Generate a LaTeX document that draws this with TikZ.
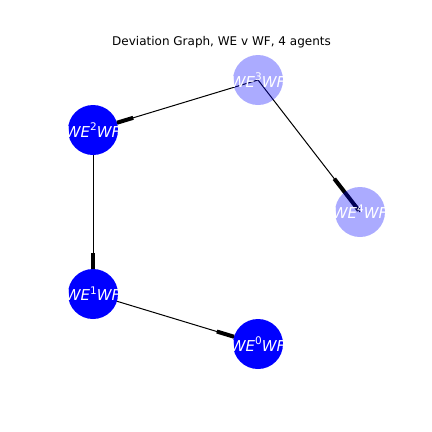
\documentclass[tikz,border=0pt]{standalone}
\usepackage{fontspec}
\setmainfont{DejaVu Sans}
\usetikzlibrary{calc}
\newcommand{\lbl}[1]{\fontsize{15bp}{18bp}\selectfont\itshape WE\raisebox{0.42em}{\fontsize{10.5bp}{12bp}\selectfont\upshape #1}WF}
\tikzset{
  edge/.style={draw=black, line width=1bp},
  stub/.style={draw=black, line width=4bp},
  solidnode/.style={circle, fill=blue, minimum size=50bp, inner sep=0pt},
  lightnode/.style={circle, fill=blue, fill opacity=0.33, minimum size=50bp, inner sep=0pt},
  nlabel/.style={text=white, inner sep=0pt},
}
\begin{document}
\begin{tikzpicture}[x=1bp,y=-1bp]
\useasboundingbox (0,0) rectangle (432,432);
\coordinate (c3) at (258,80);
\coordinate (c2) at (93,130);
\coordinate (c1) at (93,294);
\coordinate (c0) at (258,344);
\coordinate (c4) at (360,212);
% edges
\draw[edge] (c3) -- (c2);
\draw[edge] (c3) -- (c4);
\draw[edge] (c2) -- (c1);
\draw[edge] (c1) -- (c0);
% arrow stubs
\draw[stub] ($(c2)!25bp!(c3)$) -- ($(c2)!42bp!(c3)$);
\draw[stub] ($(c4)!2bp!(c3)$) -- ($(c4)!42bp!(c3)$);
\draw[stub] ($(c1)!25bp!(c2)$) -- ($(c1)!41bp!(c2)$);
\draw[stub] ($(c0)!25bp!(c1)$) -- ($(c0)!43bp!(c1)$);
% nodes
\node[lightnode, label={[nlabel]center:\lbl{3}}] (n3) at (c3) {};
\node[solidnode, label={[nlabel]center:\lbl{2}}] (n2) at (c2) {};
\node[solidnode, label={[nlabel]center:\lbl{1}}] (n1) at (c1) {};
\node[solidnode, label={[nlabel]center:\lbl{0}}] (n0) at (c0) {};
\node[lightnode, label={[nlabel]center:\lbl{4}}] (n4) at (c4) {};
\node[font=\fontsize{12bp}{14bp}\selectfont] (title) at (221.5,42) {Deviation Graph, WE v WF, 4 agents};
\end{tikzpicture}
\end{document}
